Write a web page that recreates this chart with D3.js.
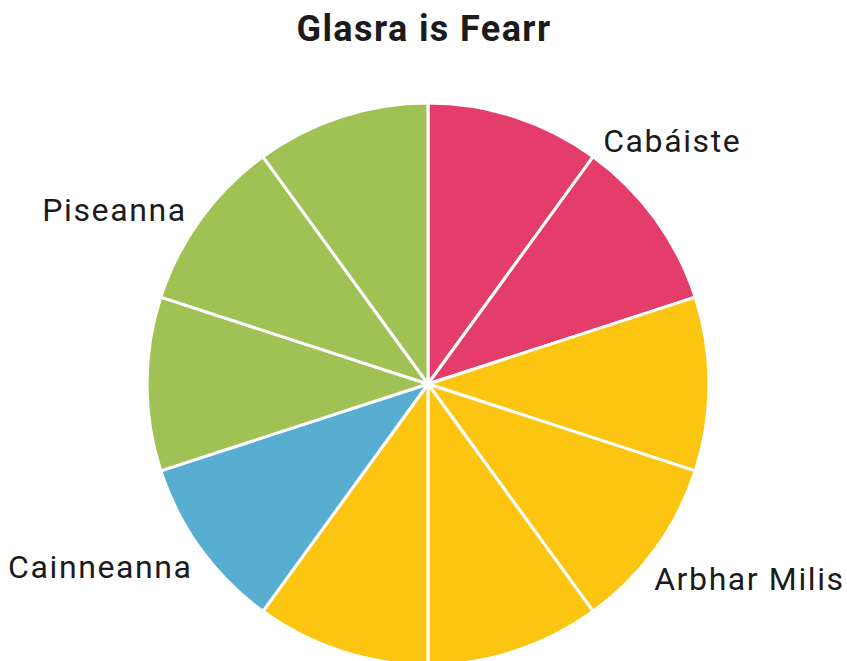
<!DOCTYPE html>
<html>
<head>
<meta charset="utf-8">
<script src="https://cdn.jsdelivr.net/npm/d3@7"></script>
<style>
  html, body { margin: 0; padding: 0; background: #ffffff; }
  svg { display: block; }
  text { font-family: Roboto, "DejaVu Sans", sans-serif; fill: #1b1b1d; }
</style>
</head>
<body>
<svg id="chart" width="847" height="661"></svg>
<script>
// Favourite vegetables: one slice per vote, coloured by vegetable
const title = "Glasra is Fearr";
const categories = ["Cabáiste", "Arbhar Milis", "Cainneanna", "Piseanna"];
const votes = [2, 4, 1, 3];
const colors = ["#e43d6a", "#fbc512", "#58aed0", "#a0c254"];

const W = 847, H = 661;
const cx = 428, cy = 384, R = 281;
// small angular nudges (degrees) applied to each label's anchor angle
const labelShift = [1, -15, 0, -2];

const svg = d3.select("#chart");

svg.append("text")
  .attr("x", 424).attr("y", 41)
  .attr("text-anchor", "middle")
  .style("font-size", "36px")
  .style("font-weight", 700)
  .style("letter-spacing", "1.4px")
  .text(title);

// expand each vegetable's count into individual vote slices
const slices = [];
categories.forEach((c, i) => {
  for (let k = 0; k < votes[i]; k++) slices.push({ cat: c, idx: i, value: 1 });
});

const color = d3.scaleOrdinal().domain(categories).range(colors);
const pie = d3.pie().value(d => d.value).sort(null);
const arc = d3.arc().innerRadius(0).outerRadius(R);

const g = svg.append("g").attr("transform", `translate(${cx},${cy})`);

g.selectAll("path.slice")
  .data(pie(slices))
  .join("path")
  .attr("class", "slice")
  .attr("d", arc)
  .attr("fill", d => color(d.data.cat))
  .attr("stroke", "#ffffff")
  .attr("stroke-width", 3)
  .attr("stroke-linejoin", "round");

// one label per vegetable: its inner corner sits just outside the rim,
// near the middle angle of that vegetable's group of slices
const groups = pie.value(d => d)(votes);
const fontSize = 32, capH = fontSize * 0.711, gap = 10;

groups.forEach((gr, i) => {
  const mid = (gr.startAngle + gr.endAngle) / 2 + labelShift[i] * Math.PI / 180;
  const sx = Math.sin(mid), sy = -Math.cos(mid);
  const px = cx + (R + gap) * sx;
  const py = cy + (R + gap) * sy;
  const t = svg.append("text")
    .style("font-size", fontSize + "px")
    .style("font-weight", 400)
    .style("letter-spacing", "1.6px")
    .text(categories[i]);
  const w = t.node().getComputedTextLength();
  let left = sx >= 0 ? px : px - w;
  if (left + w > W - 2) left = W - 2 - w;
  if (left < 2) left = 2;
  const base = sy < 0 ? py : py + capH;
  t.attr("x", left).attr("y", base);
});
</script>
</body>
</html>
